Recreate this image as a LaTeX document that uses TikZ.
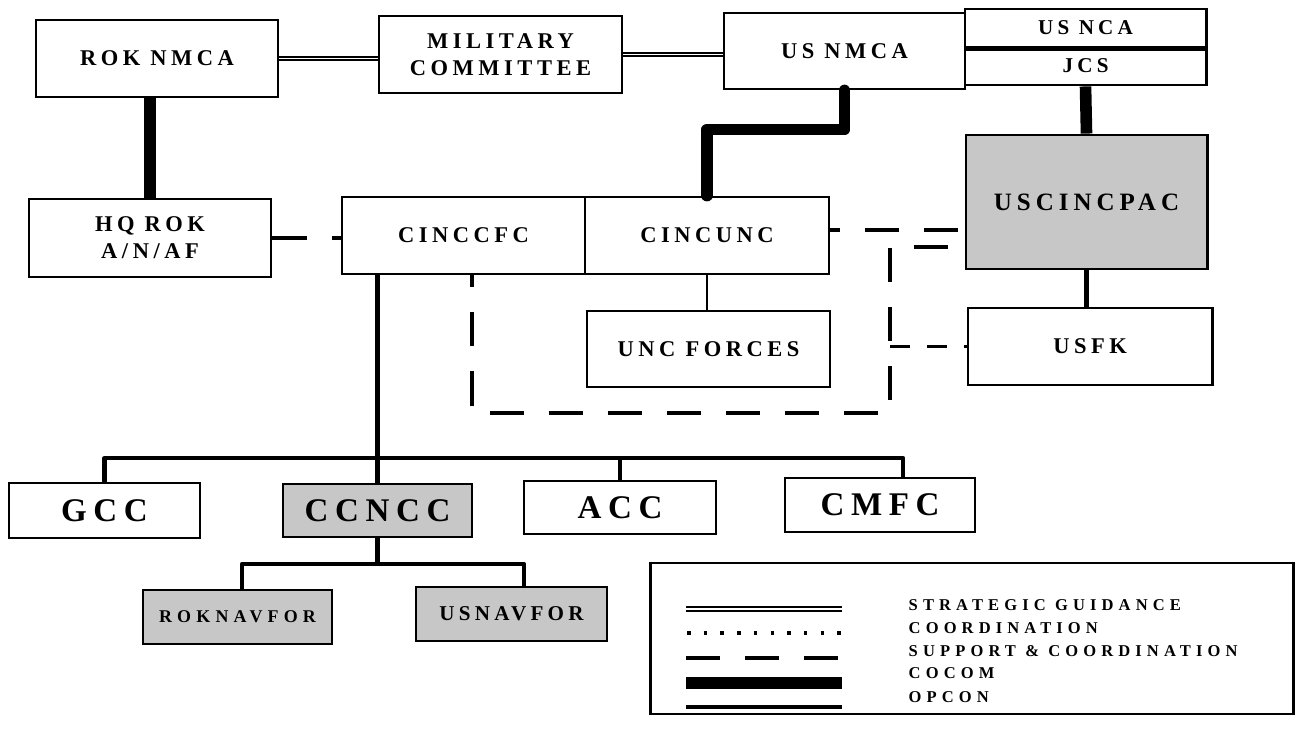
\documentclass[tikz,border=0pt]{standalone}
\usepackage{fontspec}
\setmainfont{Liberation Serif}
\newfontfamily\orgfont{Liberation Serif}[LetterSpace=20]
\newfontfamily\keyfont{Liberation Serif}[LetterSpace=31]
\tikzset{
  unit/.style={draw=black,line width=0.8pt,inner sep=0pt,align=center,
    font=\orgfont\bfseries\fontsize{6.4}{7.7}\selectfont},
  shaded/.style={unit,fill=black!22},
  big/.style={font=\orgfont\bfseries\fontsize{9.4}{11}\selectfont},
  strategic/.style={double,line width=0.45pt,double distance=0.55pt},
  support/.style={line width=0.9pt,dash pattern=on 9.7pt off 7.1pt},
  cocom/.style={line width=3.3pt,line join=round},
  opcon/.style={line width=1.2pt,line join=round},
  keytext/.style={anchor=west,inner sep=0pt,font=\keyfont\bfseries\fontsize{4.7}{5.5}\selectfont}
}
\begin{document}
\begin{tikzpicture}[x=0.01cm,y=-0.01cm]
  \useasboundingbox (0,0) rectangle (1301,732);
  % national authorities
  \node [unit,minimum width=2.42cm,minimum height=0.77cm] (roknmca) at (157,58.5) {ROK NMCA};
  \node [unit,minimum width=2.43cm,minimum height=0.77cm] (milcom) at (500.5,54.5) {MILITARY\\COMMITTEE};
  \node [unit,minimum width=2.41cm,minimum height=0.76cm] (usnmca) at (844.5,51) {US NMCA};
  \node [unit,minimum width=2.41cm,minimum height=0.38cm,font=\orgfont\bfseries\fontsize{6}{7}\selectfont] (usnca) at (1085.5,28) {US NCA};
  \node [unit,minimum width=2.41cm,minimum height=0.38cm,font=\orgfont\bfseries\fontsize{6}{7}\selectfont] (jcs) at (1085.5,66) {JCS};
  \draw [line width=1.2pt] (usnca.south west) -- (usnca.south east);
  % commands
  \node [unit,minimum width=2.42cm,minimum height=0.78cm] (hqrok) at (150,238) {HQ ROK\\A/N/AF};
  \node [unit,minimum width=2.43cm,minimum height=0.77cm] (cinccfc) at (463.5,235.5) {CINCCFC};
  \node [unit,minimum width=2.44cm,minimum height=0.77cm] (cincunc) at (707,235.5) {CINCUNC};
  \node [shaded,minimum width=2.41cm,minimum height=1.34cm,font=\orgfont\bfseries\fontsize{7.1}{8}\selectfont] (uscincpac) at (1086.5,202) {USCINCPAC};
  \node [unit,minimum width=2.43cm,minimum height=0.76cm] (uncforces) at (708.5,349) {UNC FORCES};
  \node [unit,minimum width=2.44cm,minimum height=0.77cm] (usfk) at (1090,346.5) {USFK};
  % components
  \node [unit,big,minimum width=1.91cm,minimum height=0.55cm] (gcc) at (104.5,510.5) {GCC};
  \node [shaded,big,minimum width=1.89cm,minimum height=0.53cm] (ccncc) at (377.5,510.5) {CCNCC};
  \node [unit,big,minimum width=1.92cm,minimum height=0.53cm] (acc) at (620,507.5) {ACC};
  \node [unit,big,minimum width=1.90cm,minimum height=0.54cm] (cmfc) at (880,505) {CMFC};
  \node [shaded,minimum width=1.89cm,minimum height=0.54cm,font=\orgfont\bfseries\addfontfeature{LetterSpace=29}\fontsize{5.1}{6}\selectfont] (roknavfor) at (237.5,617) {ROKNAVFOR};
  \node [shaded,minimum width=1.91cm,minimum height=0.54cm,font=\orgfont\bfseries\fontsize{6}{7}\selectfont] (usnavfor) at (511.5,614) {USNAVFOR};
  % routing points
  \coordinate (loopbl) at (472,413);
  \coordinate (loopbr) at (890,413);
  \coordinate (looptr) at (890,247);
  \coordinate (liaison) at (829,230);
  \coordinate (bus) at (375,458);
  \coordinate (navbus) at (377,564);
  % strategic guidance
  \draw [strategic] (roknmca.east) -- (roknmca.east -| milcom.west);
  \draw [strategic] (milcom.east) -- (milcom.east -| usnmca.west);
  % cocom
  \draw [cocom] (hqrok.north |- roknmca.south) -- (hqrok.north);
  \draw [cocom,line cap=round] (usnmca.south) -- ++(0,39) -| (cincunc.north);
  \draw [cocom] (jcs.south) -- (uscincpac.north);
  % opcon
  \draw [opcon] (ccncc.north |- cinccfc.south) -- (ccncc.north);
  \draw [opcon] (gcc.north) |- (bus) -| ([xshift=0.23cm]cmfc.north);
  \draw [opcon] (acc.north) -- (acc.north |- bus);
  \draw [opcon] (ccncc.south) -- (ccncc.south |- navbus);
  \draw [opcon] ([xshift=0.045cm]roknavfor.north) |- (navbus) -| ([xshift=0.125cm]usnavfor.north);
  \draw [opcon,line width=0.6pt] (cincunc.south) -- (cincunc.south |- uncforces.north);
  \draw [opcon] (uscincpac.south) -- (uscincpac.south |- usfk.north);
  % support & coordination
  \draw [support] (hqrok.east) -- (hqrok.east -| cinccfc.west);
  \draw [support,dash phase=7.1pt] (liaison -| cincunc.east) -- (liaison -| uscincpac.west);
  \draw [support,dash phase=6.3pt] (cinccfc.south -| loopbl) -- (loopbl) -- (loopbr) -- (looptr) -- (looptr -| uscincpac.west);
  \draw [support,dash pattern=on 5.7pt off 4.8pt] (usfk.west -| looptr) -- (usfk.west);
  % legend
  \node [draw,line width=0.8pt,minimum width=6.42cm,minimum height=1.51cm,inner sep=0pt] (legend) at (972,638.5) {};
  \draw [strategic] (686,609) -- (842,609);
  \draw [line width=1.2pt,dash pattern=on 1pt off 3.75pt] (687,633) -- (842,633);
  \draw [support] (686,658) -- (842,658);
  \draw [cocom] (686,683) -- (842,683);
  \draw [opcon] (686,707) -- (842,707);
  \node [keytext] (keystrat) at (908,605) {STRATEGIC GUIDANCE};
  \node [keytext] (keycoord) at (908,628) {COORDINATION};
  \node [keytext] (keysupp) at (908,651) {SUPPORT \& COORDINATION};
  \node [keytext] (keycocom) at (908,673) {COCOM};
  \node [keytext] (keyopcon) at (908,697) {OPCON};
\end{tikzpicture}
\end{document}
